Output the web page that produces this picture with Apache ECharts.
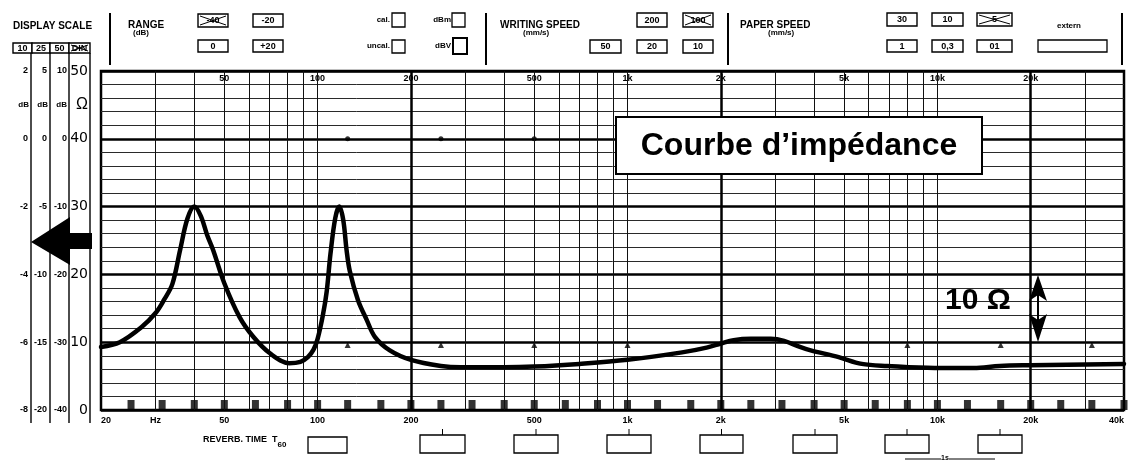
<!DOCTYPE html>
<html><head><meta charset="utf-8">
<script src="https://cdn.jsdelivr.net/npm/echarts@6/dist/echarts.min.js"></script>
<style>html,body{margin:0;padding:0;background:#fff}#c{width:1128px;height:461px}</style>
</head><body><div id="c"></div>
<script>
// ---- data ----
const freqHz = [20, 23, 27, 30, 32, 34, 36, 38, 40, 42, 44, 46, 50, 56, 62, 70, 81, 88, 93, 97, 100, 104, 107, 110, 114, 117.5, 121, 124, 127, 135, 144, 153, 171, 200, 250, 290, 400, 500, 700, 1000, 1500, 1800, 2000, 2200, 2500, 2900, 3200, 3600, 3900, 4800, 5700, 6900, 9800, 13100, 15900, 20000, 40000];
const impedanceOhm = [9.3, 10.0, 12.2, 14.3, 16.3, 18.6, 23.6, 28.2, 30.0, 28.6, 25.8, 23.6, 18.7, 13.7, 10.8, 8.4, 6.9, 7.1, 7.8, 8.9, 10.5, 14.0, 17.5, 23.0, 28.3, 30.0, 28.0, 23.6, 20.5, 16.2, 13.3, 10.8, 8.8, 7.4, 6.5, 6.3, 6.3, 6.4, 6.8, 7.4, 8.5, 9.2, 9.8, 10.3, 10.5, 10.5, 10.2, 9.3, 8.8, 7.8, 6.8, 6.5, 6.2, 6.2, 6.5, 6.6, 6.8];
const thirdOctaveHz = [25, 31.5, 40, 50, 63, 80, 100, 125, 160, 200, 250, 315, 400, 500, 630, 800, 1000, 1250, 1600, 2000, 2500, 3150, 4000, 5000, 6300, 8000, 10000, 12500, 16000, 20000, 25000, 31500, 40000];
const gridLinesHz = [30, 40, 50, 60, 70, 80, 90, 100, 300, 400, 500, 600, 700, 800, 900, 1000, 3000, 4000, 5000, 6000, 7000, 8000, 9000, 10000, 30000];
const boldGridHz = [200, 2000, 20000];
const bottomTickHz = [20, 30, 50, 100, 200, 500, 1000, 2000, 5000, 10000, 20000, 40000];
const bottomTickLabels = ['20', 'Hz', '50', '100', '200', '500', '1k', '2k', '5k', '10k', '20k', '40k'];
const topTickHz = [50, 100, 200, 500, 1000, 2000, 5000, 10000, 20000];
const topTickLabels = ['50', '100', '200', '500', '1k', '2k', '5k', '10k', '20k'];
const dotMarkHz = [125, 250, 500];
const dotMarkOhm = 40;
const triMarkHz = [125, 250, 500, 1000, 8000, 16000, 31500];
const triMarkOhm = 9.6;
const ohmRange = [0, 50, 10];
const dbScale10 = [-40, 10, 10];
const dbScale25 = [-20, 5, 5];
const dbScale50 = [-8, 2, 2];

// ---- chart ----
const chart = echarts.init(document.getElementById('c'), null, {renderer: 'canvas'});
const FF = '"Liberation Sans", Arial, sans-serif';

function lbl(arrV, arrL) { return v => { const i = arrV.findIndex(a => Math.abs(a - v) / a < 1e-6); return i >= 0 ? arrL[i] : ''; }; }

function dbAxis(r, offset) {
  return {
    type: 'value', min: r[0], max: r[1], interval: r[2], position: 'left', offset: offset,
    axisLine: {show: false}, axisTick: {show: false}, splitLine: {show: false},
    axisLabel: {margin: 3, color: '#000', fontFamily: FF, fontWeight: 'bold', fontSize: 9}
  };
}

const G = [];
function txt(x, y, t, size, align, weight, z) {
  G.push({type: 'text', x: x, y: y, z: z || 10, silent: true, style: {text: t, fill: '#000', font: (weight || 'bold') + ' ' + size + 'px ' + FF, align: align || 'left', verticalAlign: 'middle'}});
}
function rect(x, y, w, h, lw, z) {
  G.push({type: 'rect', silent: true, z: z || 10, shape: {x: x, y: y, width: w, height: h}, style: {fill: '#fff', stroke: '#000', lineWidth: lw || 1.3}});
}
function line(x1, y1, x2, y2, lw) {
  G.push({type: 'line', silent: true, z: 10, shape: {x1: x1, y1: y1, x2: x2, y2: y2}, style: {stroke: '#000', lineWidth: lw || 1}});
}
function poly(pts) {
  G.push({type: 'polygon', silent: true, z: 10, shape: {points: pts}, style: {fill: '#000'}});
}
function box(x, y, w, h, t, crossed) {
  rect(x, y, w, h, 1.4);
  txt(x + w / 2, y + h / 2 + 0.5, t, 9, 'center', 'bold', 11);
  if (crossed) { line(x + 2, y + 2, x + w - 2, y + h - 2, 1); line(x + 2, y + h - 2, x + w - 2, y + 2, 1); }
}

// header
txt(13, 26, 'DISPLAY SCALE', 10, 'left');
box(13, 43, 19, 10, '10'); box(32, 43, 18, 10, '25'); box(50, 43, 19, 10, '50'); box(69, 43, 21, 10, 'DIN', true);
[110, 486, 728, 1122].forEach(x => line(x, 13, x, 65, 2));
txt(128, 25, 'RANGE', 10, 'left'); txt(133, 33, '(dB)', 8, 'left');
box(198, 14, 30, 13, '-40', true); box(253, 14, 30, 13, '-20'); box(198, 40, 30, 12, '0'); box(253, 40, 30, 12, '+20');
txt(390, 20, 'cal.', 8, 'right'); rect(392, 13, 13, 14); txt(451, 20, 'dBm', 8, 'right'); rect(452, 13, 13, 14);
txt(390, 46, 'uncal.', 8, 'right'); rect(392, 40, 13, 13); txt(451, 46, 'dBV', 8, 'right'); rect(453, 38, 14, 16, 2);
txt(500, 25, 'WRITING SPEED', 10, 'left'); txt(523, 33, '(mm/s)', 8, 'left');
box(637, 13, 30, 14, '200'); box(683, 13, 30, 14, '100', true); box(590, 40, 31, 13, '50'); box(637, 40, 30, 13, '20'); box(683, 40, 30, 13, '10');
txt(740, 25, 'PAPER SPEED', 10, 'left'); txt(768, 33, '(mm/s)', 8, 'left');
box(887, 13, 30, 13, '30'); box(932, 13, 31, 13, '10'); box(977, 13, 35, 13, '5', true);
box(887, 40, 30, 12, '1'); box(932, 40, 31, 12, '0,3'); box(977, 40, 35, 12, '01');
txt(1069, 26, 'extern', 8, 'center'); rect(1038, 40, 69, 12);

// left scale column lines and unit row
[31, 50, 69, 90].forEach(x => line(x, 53, x, 423, 1.4));
txt(29, 105, 'dB', 8, 'right'); txt(48, 105, 'dB', 8, 'right'); txt(67, 105, 'dB', 8, 'right');
txt(88, 105, 'Ω', 16, 'right', 'normal');
// big arrow
poly([[31, 242], [70, 217], [70, 233], [92, 233], [92, 249], [70, 249], [70, 265]]);

// annotation (above the plot)
rect(616, 117, 366, 57, 2, 100);
txt(799, 146, 'Courbe d’impédance', 32, 'center', 'bold', 101);
txt(978, 301, '10 Ω', 30, 'center', 'bold', 101);
line(1038, 290, 1038, 330, 2);
poly([[1038, 275], [1047, 301], [1038, 295], [1029, 301]]);
poly([[1038, 342], [1047, 314], [1038, 320], [1029, 314]]);

// bottom reverb row
G.push({type: 'text', x: 203, y: 440, z: 10, silent: true, style: {text: 'REVERB. TIME  T{s|60}', fill: '#000', font: 'bold 9px ' + FF, verticalAlign: 'middle', rich: {s: {font: 'bold 8px ' + FF, padding: [9, 0, 0, 0]}}}});
rect(308, 437, 39, 16);
[[420, 45], [514, 44], [607, 44], [700, 43], [793, 44], [885, 44], [978, 44]].forEach(b => { rect(b[0], 435, b[1], 18); line(b[0] + b[1] / 2, 429, b[0] + b[1] / 2, 435, 1); });
line(905, 459, 995, 459, 1);
G.push({type: 'text', x: 945, y: 458, z: 12, silent: true, style: {text: '1s', fill: '#000', backgroundColor: '#fff', font: 'bold 7px ' + FF, align: 'center', verticalAlign: 'middle'}});

const option = {
  animation: false,
  backgroundColor: '#fff',
  grid: {left: 101, right: 4, top: 71, bottom: 51, show: true, borderColor: '#000', borderWidth: 2.5, backgroundColor: 'transparent'},
  xAxis: [{
    type: 'log', logBase: 10, min: 20, max: 40000, position: 'bottom',
    axisLine: {show: false}, axisTick: {show: false}, splitLine: {show: false}, minorSplitLine: {show: false},
    axisLabel: {customValues: bottomTickHz, formatter: lbl(bottomTickHz, bottomTickLabels), margin: 6, color: '#000', fontFamily: FF, fontWeight: 'bold', fontSize: 9, alignMinLabel: 'left', alignMaxLabel: 'right', showMinLabel: true, showMaxLabel: true}
  }, {
    type: 'log', logBase: 10, min: 20, max: 40000, position: 'top',
    axisLine: {show: false}, axisTick: {show: false}, splitLine: {show: false},
    axisLabel: {inside: true, customValues: topTickHz, formatter: lbl(topTickHz, topTickLabels), margin: 3, color: '#000', fontFamily: FF, fontWeight: 'bold', fontSize: 9}
  }],
  yAxis: [{
    type: 'value', min: ohmRange[0], max: ohmRange[1], interval: ohmRange[2], position: 'left', offset: 11,
    axisLine: {show: false}, axisTick: {show: false},
    axisLabel: {margin: 2, color: '#000', fontFamily: '"DejaVu Sans", sans-serif', fontSize: 14},
    splitLine: {show: true, lineStyle: {color: '#000', width: 2.6}},
    minorTick: {show: false, splitNumber: 5},
    minorSplitLine: {show: true, lineStyle: {color: '#2a2a2a', width: 1}}
  }, dbAxis(dbScale10, 31), dbAxis(dbScale25, 51), dbAxis(dbScale50, 70)],
  series: [{
    type: 'scatter', xAxisIndex: 0, yAxisIndex: 0, silent: true,
    data: thirdOctaveHz.map(f => [f, 0]),
    symbol: 'rect', symbolSize: [7, 10], symbolOffset: [0, -5],
    itemStyle: {color: '#000'}, z: 3,
    markLine: {
      silent: true, symbol: 'none', animation: false, label: {show: false},
      lineStyle: {color: '#111', width: 1, type: 'solid'},
      data: gridLinesHz.map(f => ({xAxis: f})).concat(boldGridHz.map(f => ({xAxis: f, lineStyle: {width: 2.5, color: '#000', type: 'solid'}})))
    }
  }, {
    type: 'scatter', silent: true, data: dotMarkHz.map(f => [f, dotMarkOhm]),
    symbol: 'circle', symbolSize: 5, itemStyle: {color: '#000'}, z: 3
  }, {
    type: 'scatter', silent: true, data: triMarkHz.map(f => [f, triMarkOhm]),
    symbol: 'triangle', symbolSize: [6, 6], itemStyle: {color: '#000'}, z: 3
  }, {
    type: 'line', silent: true, data: freqHz.map((f, i) => [f, impedanceOhm[i]]),
    showSymbol: false, symbol: 'none', smooth: 0.35, clip: true,
    lineStyle: {color: '#000', width: 4.5, cap: 'round', join: 'round'}, z: 5
  }],
  graphic: {elements: G}
};
chart.setOption(option);
</script>
</body></html>
